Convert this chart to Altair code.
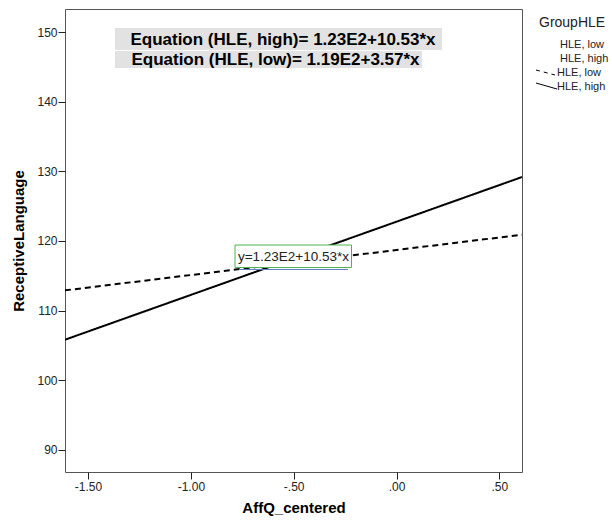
import altair as alt
import pandas as pd

# ---- data ----
x_ends = [-1.612, 0.610]
high_vals = [105.8, 129.2]
low_vals = [112.9, 120.9]
groups = ["HLE, high", "HLE, low"]
x_ticks = [-1.5, -1.0, -0.5, 0.0, 0.5]
y_ticks = [90, 100, 110, 120, 130, 140, 150]
eq_high = "Equation (HLE, high)= 1.23E2+10.53*x"
eq_low = "Equation (HLE, low)= 1.19E2+3.57*x"
fit_label = "y=1.23E2+10.53*x"
legend_title = "GroupHLE"
legend_labels = ["HLE, low", "HLE, high", "HLE, low", "HLE, high"]

FONT = "Liberation Sans"
W, H = 457, 463

rows = []
for g, vals in zip(groups, [high_vals, low_vals]):
    for xv, yv in zip(x_ends, vals):
        rows.append({"AffQ_centered": xv, "ReceptiveLanguage": yv, "GroupHLE": g})
df = pd.DataFrame(rows)

xscale = alt.Scale(domain=[x_ends[0], x_ends[1]], nice=False, zero=False)
yscale = alt.Scale(domain=[86.77, 153.37], nice=False, zero=False)

lines = alt.Chart(df).mark_line(color="black", strokeWidth=2, clip=True).encode(
    x=alt.X("AffQ_centered:Q", scale=xscale,
            axis=alt.Axis(values=x_ticks, title="AffQ_centered",
                          labelExpr="replace(replace(format(datum.value, '.2f'), '\u2212', '-'), '0.', '.')",
                          grid=False, domain=False, tickSize=7, tickColor="#222",
                          labelFontSize=12, labelColor="#222", labelPadding=2,
                          labelFont=FONT, titleFont=FONT, titleFontSize=15,
                          titleFontWeight="bold", titleColor="black", titlePadding=8)),
    y=alt.Y("ReceptiveLanguage:Q", scale=yscale,
            axis=alt.Axis(values=y_ticks, title="ReceptiveLanguage",
                          grid=False, domain=False, tickSize=7, tickColor="#222",
                          labelFontSize=12, labelColor="#222", labelPadding=1,
                          labelFont=FONT, titleFont=FONT, titleFontSize=15,
                          titleFontWeight="bold", titleColor="black", titlePadding=10)),
    strokeDash=alt.StrokeDash("GroupHLE:N",
                              scale=alt.Scale(domain=groups, range=[[1, 0], [6, 4]]),
                              legend=None),
    detail="GroupHLE:N",
)

one = alt.Chart(pd.DataFrame({"a": [0]}))

def box(x, x2, y, y2, fill, stroke=None):
    kw = dict(fill=fill)
    if stroke:
        kw.update(stroke=stroke, strokeWidth=1)
    else:
        kw.update(strokeWidth=0)
    return one.mark_rect(**kw).encode(x=alt.value(x), x2=alt.value(x2),
                                      y=alt.value(y), y2=alt.value(y2))

def text(t, x, y, size, bold=False, align="center", color="black"):
    return one.mark_text(text=t, font=FONT, fontSize=size,
                         fontWeight="bold" if bold else "normal",
                         align=align, baseline="middle", color=color).encode(
        x=alt.value(x), y=alt.value(y))

def seg(x, x2, y, y2, color="black", dash=None, width=1):
    kw = dict(color=color, strokeWidth=width)
    if dash:
        kw["strokeDash"] = dash
    return one.mark_rule(**kw).encode(x=alt.value(x), x2=alt.value(x2),
                                     y=alt.value(y), y2=alt.value(y2))

layers = [
    box(50, 377, 19, 41, "#e2e2e2"),
    box(50, 357, 42, 59, "#e2e2e2"),
    text(eq_high, 218, 30.5, 17, bold=True),
    text(eq_low, 210.5, 50.5, 17, bold=True),
    lines,
    seg(174, 283, 260.5, 260.5, color="#5b7fc7", width=1.2),
    box(170, 286.5, 236, 258.5, "white", stroke="#4cb34c"),
    text(fit_label, 228.5, 248, 13.5, color="#222"),
    text(legend_title, 474, 14, 14, align="left", color="#222"),
    text(legend_labels[0], 495, 36, 11, align="left", color="#222"),
    text(legend_labels[1], 495, 50, 11, align="left", color="#222"),
    text(legend_labels[2], 492, 64, 11, align="left", color="#222"),
    text(legend_labels[3], 492, 78, 11, align="left", color="#222"),
    seg(471, 490, 61, 66, dash=[4, 4]),
    seg(471, 492, 74, 80),
]

chart = alt.layer(*layers).properties(
    width=W, height=H,
    autosize=alt.AutoSizeParams(type="none"),
    padding={"left": 65, "top": 9, "right": 90, "bottom": 49},
    background="white",
).configure_view(stroke="#555", strokeWidth=1)

chart.save("out.html", embed_options={"renderer": "svg", "actions": False})
